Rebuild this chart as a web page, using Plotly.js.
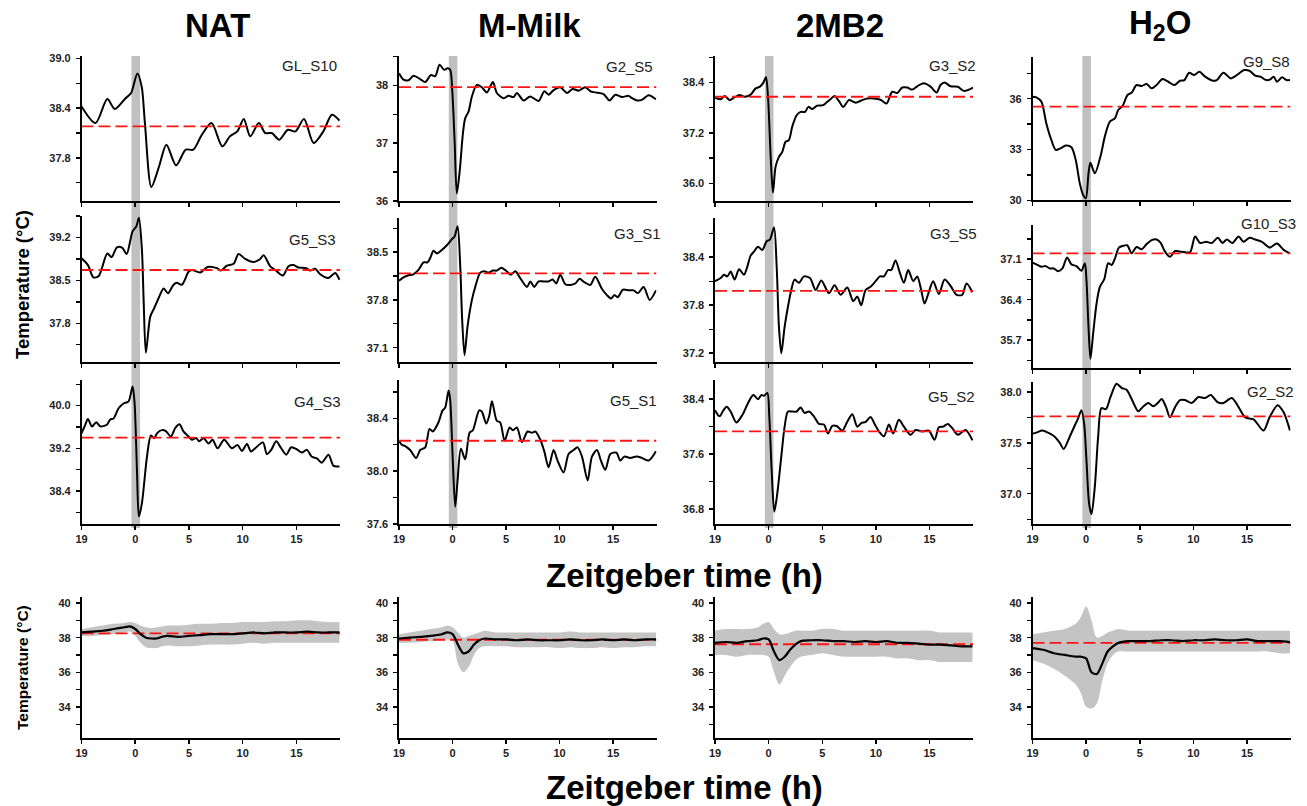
<!DOCTYPE html>
<html><head><meta charset="utf-8">
<script src="https://cdn.plot.ly/plotly-3.0.1.min.js"></script>
<style>html,body{margin:0;padding:0;background:#fff;}#chart{width:1307px;height:806px;}</style>
</head><body><div id="chart"></div>
<script>
// ---------------- DATA ----------------
const columnTitles = ['NAT', 'M-Milk', '2MB2', 'H<sub>2</sub>O'];
const xTickVals = [-5, 0, 5, 10, 15];
const xTickText = ['19', '0', '5', '10', '15'];
const panelLabels = ['GL_S10','G5_S3','G4_S3','G2_S5','G3_S1','G5_S1','G3_S2','G3_S5','G5_S2','G9_S8','G10_S3','G2_S2'];
const refLevels = [38.18, 38.67, 39.4, 37.97, 38.19, 38.23, 38.06, 37.98, 37.93, 35.53, 37.2, 37.76];
const meanRefLevels = [38.25, 37.88, 37.62, 37.7];

const NAT_A_T = [-5,-3.7,-2.6,-1.9,-0.9,-0.4,0.2,0.6,0.9,1.5,2.2,2.9,3.8,4.7,5.4,6.2,7.1,8.1,8.8,9.5,10.1,10.7,11.5,12.1,12.7,13.4,14.2,14.9,15.7,16.6,17.5,18.3,19];
const NAT_A_V = [38.42,38.22,38.51,38.39,38.52,38.58,38.82,38.66,38.22,37.45,37.69,37.96,37.71,37.90,37.90,38.08,38.22,37.94,38.06,38.12,38.27,38.06,38.22,38.10,38.10,38.02,38.14,38.12,38.27,37.98,38.12,38.32,38.25];
const NAT_B_T = [-5,-4.4,-3.9,-3.4,-2.6,-2.2,-1.7,-1.2,-0.8,-0.25,0.1,0.34,0.62,0.78,0.99,1.4,1.77,2.17,2.64,3.04,3.57,3.88,4.34,4.96,5.27,6.05,6.73,7.6,7.97,8.53,9.15,9.61,10.23,11.0,11.57,11.94,12.56,13.02,13.74,14.26,14.73,15.19,15.91,16.28,16.74,17.21,17.98,18.6,19];
const NAT_B_V = [38.86,38.75,38.55,38.57,38.94,38.88,39.04,39.03,38.93,39.30,39.38,39.52,39.0,38.18,37.32,37.91,38.05,38.21,38.37,38.29,38.43,38.46,38.43,38.64,38.67,38.63,38.72,38.70,38.66,38.74,38.77,38.93,38.85,38.80,38.84,38.91,38.73,38.67,38.58,38.73,38.75,38.71,38.70,38.66,38.69,38.60,38.54,38.62,38.51];
const NAT_C_T = [-5,-4.65,-4.4,-4.03,-3.63,-3.26,-2.64,-2.33,-2.02,-1.55,-1.09,-0.62,-0.25,-0.06,0.16,0.34,0.62,1.09,1.46,1.77,2.02,2.48,2.85,3.32,3.72,4.12,4.5,4.96,5.27,5.67,5.95,6.36,6.82,7.19,7.66,8.28,8.99,9.52,9.92,10.39,10.76,11.16,11.88,12.25,12.65,13.12,13.58,14.05,14.51,15.04,15.5,15.97,16.43,16.9,17.36,17.98,18.45,19];
const NAT_C_V = [39.48,39.64,39.75,39.61,39.69,39.61,39.64,39.74,39.76,39.95,40.04,40.08,40.36,40.04,38.79,37.92,38.17,39.04,39.44,39.39,39.48,39.54,39.52,39.42,39.58,39.65,39.51,39.42,39.36,39.39,39.33,39.39,39.29,39.36,39.2,39.36,39.2,39.26,39.15,39.28,39.14,39.2,39.31,39.09,39.17,39.33,39.2,39.08,39.22,39.18,39.12,39.17,39.04,39.01,38.93,39.08,38.87,38.86];

const MM_A_T = [-5,-4.58,-4.11,-3.64,-3.02,-2.55,-2.02,-1.62,-1.21,-0.78,-0.47,-0.22,-0.03,0.19,0.4,0.65,0.97,1.18,1.5,1.81,2.27,2.74,3.21,3.77,4.14,4.77,5.23,5.7,6.01,6.64,7.26,8.04,8.57,8.97,9.44,10.06,10.69,11.21,11.78,12.4,12.87,13.33,14.11,14.67,15.2,15.83,16.45,16.76,17.23,17.69,18.32,19];
const MM_A_V = [38.21,38.1,38.09,38.17,38.11,38.06,38.18,38.16,38.36,38.27,38.3,38.27,37.92,37.06,36.13,36.48,37.17,37.43,37.55,37.81,38.01,37.97,37.88,38.06,37.87,37.78,37.82,37.8,37.87,37.74,37.81,37.73,37.9,37.84,37.92,37.97,37.87,37.94,37.91,37.97,37.9,37.88,37.85,37.74,37.84,37.8,37.82,37.78,37.74,37.75,37.83,37.76];
const MM_B_T = [-5,-4.58,-4.11,-3.71,-3.18,-2.71,-2.34,-2.09,-1.78,-1.46,-1.0,-0.53,-0.06,0.19,0.47,0.72,0.9,1.12,1.4,1.81,2.12,2.59,2.96,3.36,3.77,4.14,4.55,4.98,5.45,5.86,6.32,6.95,7.26,7.63,8.04,8.5,8.97,9.35,9.69,10.06,10.53,11.0,11.46,11.87,12.31,12.87,13.33,13.96,14.42,14.8,15.11,15.42,15.92,16.45,16.92,17.32,17.85,18.41,19];
const MM_B_V = [38.08,38.13,38.16,38.17,38.24,38.35,38.35,38.41,38.52,38.48,38.53,38.6,38.69,38.73,38.88,38.29,37.51,36.99,37.41,37.8,37.99,38.2,38.22,38.2,38.23,38.23,38.27,38.23,38.17,38.22,38.12,37.99,38.07,37.99,38.07,38.07,38.07,38.1,38.04,38.17,38.03,38.02,38.04,38.11,38.06,38.02,38.14,37.96,37.87,37.82,37.87,37.84,37.95,37.94,37.94,37.9,37.99,37.8,37.94];
const MM_C_T = [-5,-4.74,-4.42,-3.96,-3.4,-3.02,-2.55,-2.15,-1.84,-1.31,-0.93,-0.69,-0.37,-0.22,0,0.25,0.47,0.78,1.18,1.59,1.9,2.49,2.74,3.15,3.43,3.68,4.14,4.45,4.86,5.33,5.64,6.01,6.48,7.01,7.41,7.73,8.19,8.57,8.97,9.44,9.81,10.37,10.84,11.31,11.68,12.09,12.62,13.02,13.49,13.86,14.27,14.74,15.3,15.67,16.04,16.6,17.17,17.69,18.32,19];
const MM_C_V = [38.23,38.2,38.19,38.16,38.1,38.16,38.18,38.32,38.3,38.37,38.46,38.48,38.61,38.54,38.13,37.73,37.93,38.17,38.09,38.29,38.31,38.46,38.45,38.36,38.42,38.53,38.38,38.37,38.23,38.33,38.31,38.33,38.22,38.3,38.29,38.3,38.24,38.15,38.03,38.16,38.08,37.99,38.13,38.16,38.18,38.11,37.93,38.11,38.16,38.08,38.01,38.13,38.14,38.08,38.11,38.1,38.11,38.1,38.08,38.15];

const MB_A_T = [-5,-4.47,-4.1,-3.63,-3.23,-2.7,-2.24,-1.68,-1.21,-0.81,-0.5,-0.25,-0.06,0.19,0.4,0.65,0.96,1.27,1.58,1.89,2.2,2.61,2.98,3.39,3.7,4.07,4.53,5.09,5.47,5.84,6.15,6.55,6.96,7.48,8.11,8.73,9.19,9.81,10.43,10.99,11.52,11.99,12.45,12.92,13.39,13.85,14.47,15.09,15.65,16.02,16.4,16.96,17.64,18.2,19.05];
const MB_A_V = [38.04,38.0,38.08,37.98,38.04,38.1,38.06,38.11,38.26,38.3,38.39,38.53,38.06,36.63,35.78,36.4,36.63,36.75,36.99,37.03,37.35,37.62,37.7,37.7,37.82,37.77,37.85,37.86,37.94,38.02,38.08,37.96,37.82,37.98,37.92,37.98,38.02,38.02,37.99,37.9,38.18,38.15,38.28,38.28,38.23,38.31,38.38,38.3,38.16,38.34,38.4,38.31,38.3,38.2,38.28];
const MB_B_T = [-5,-4.47,-4.16,-3.85,-3.54,-3.17,-2.76,-2.3,-1.99,-1.68,-1.37,-0.99,-0.59,-0.19,0.12,0.5,0.75,0.96,1.18,1.49,1.8,2.11,2.42,2.83,3.29,3.85,4.38,4.91,5.62,6.15,6.71,7.33,7.89,8.26,8.63,9.04,9.5,9.97,10.37,10.75,11.12,11.43,11.83,12.24,12.61,13.01,13.48,13.85,14.22,14.53,14.94,15.34,15.87,16.4,16.96,17.52,18.04,18.45,19];
const MB_B_V = [38.1,38.14,38.18,38.16,38.22,38.12,38.25,38.18,38.28,38.42,38.47,38.53,38.49,38.6,38.62,38.77,38.28,37.53,37.2,37.53,37.78,37.99,38.12,38.08,38.16,38.14,37.99,38.11,37.95,38.05,37.93,38.02,37.85,37.91,37.8,37.99,38.03,38.1,38.16,38.16,38.24,38.24,38.36,38.2,38.08,38.24,38.1,38.16,37.99,37.82,37.97,38.1,37.94,38.12,38.04,37.93,37.93,38.07,37.96];
const MB_C_T = [-5,-4.57,-4.25,-3.91,-3.54,-3.01,-2.45,-1.93,-1.43,-0.99,-0.68,-0.43,-0.12,0.06,0.28,0.53,0.81,1.21,1.49,1.8,2.2,2.61,2.98,3.35,3.76,4.22,4.69,5.16,5.53,5.93,6.34,6.86,7.33,7.8,8.26,8.63,9.04,9.5,9.88,10.28,10.75,11.21,11.61,12.14,12.61,13.23,13.7,14.32,14.94,15.47,15.87,16.27,16.71,17.2,17.64,18.35,19];
const MB_C_V = [38.24,38.15,38.23,38.29,38.22,38.06,38.17,38.34,38.46,38.4,38.46,38.45,38.49,38.15,37.37,36.76,37.03,37.61,38.0,38.22,38.22,38.22,38.28,38.2,38.22,38.15,38.04,38.03,37.9,38.01,38.01,37.94,38.07,38.18,38.0,38.05,38.07,38.14,38.04,37.93,37.86,38.03,37.9,38.1,38.0,37.88,37.95,37.93,37.94,37.81,37.99,38.0,38.04,37.96,37.88,37.95,37.8];

const HO_A_T = [-5,-4.64,-4.17,-3.71,-3.24,-2.83,-2.4,-1.9,-1.37,-0.97,-0.59,-0.28,-0.03,0.22,0.4,0.81,1.37,1.74,2.21,2.68,2.99,3.4,3.86,4.24,4.7,5.17,5.64,6.11,6.57,7.13,7.66,8.22,8.75,9.16,9.6,10.06,10.56,11.09,11.81,12.18,12.8,13.49,14.05,14.74,15.23,15.76,16.23,16.79,17.17,17.48,17.79,18.26,18.66,19];
const HO_A_V = [36.12,36.08,35.82,34.54,33.56,32.97,33.07,33.23,33.13,32.38,31.0,30.31,30.12,31.59,32.22,31.59,32.68,33.76,34.64,34.84,35.33,35.57,36.22,36.35,36.81,36.75,36.87,36.61,36.81,37.16,37.0,36.81,37.06,37.1,37.53,37.4,37.59,37.3,37.06,37.1,37.53,37.2,37.4,37.69,37.65,37.36,37.3,37.1,37.14,37.3,37.0,37.26,37.1,37.1];
const HO_B_T = [-5,-4.64,-4.17,-3.77,-3.4,-3.02,-2.62,-2.21,-1.78,-1.37,-0.9,-0.44,-0.12,0.03,0.22,0.4,0.65,0.97,1.28,1.68,2.06,2.37,2.68,3.05,3.46,3.83,4.24,4.7,5.17,5.64,6.11,6.57,6.95,7.35,7.82,8.29,8.75,9.22,9.69,10.16,10.62,11.18,11.71,12.27,12.71,13.12,13.64,14.21,14.67,15.23,15.76,16.39,17.1,17.79,18.41,19];
const HO_B_V = [37.04,37.01,36.97,36.98,36.94,36.94,36.89,36.94,37.13,37.01,36.98,36.9,37.03,36.74,35.93,35.38,35.81,36.33,36.62,36.75,37.03,37.0,37.11,37.3,37.33,37.34,37.2,37.31,37.27,37.36,37.43,37.44,37.38,37.23,37.14,37.24,37.23,37.22,37.22,37.49,37.38,37.4,37.38,37.47,37.38,37.44,37.38,37.49,37.4,37.47,37.44,37.4,37.3,37.37,37.26,37.2];
const HO_C_T = [-5,-4.64,-4.08,-3.55,-2.93,-2.46,-2.09,-1.53,-1.06,-0.75,-0.44,-0.19,0.03,0.28,0.5,0.81,1.12,1.43,1.84,2.27,2.83,3.3,3.77,4.24,4.86,5.26,5.79,6.26,6.67,7.04,7.45,7.82,8.29,8.75,9.22,9.84,10.47,11.09,11.62,12.24,12.8,13.58,14.21,14.83,15.61,16.54,17.1,17.85,18.41,19];
const HO_C_V = [37.59,37.6,37.62,37.6,37.56,37.5,37.44,37.56,37.67,37.74,37.82,37.69,37.33,36.9,36.8,37.07,37.56,37.84,37.83,37.95,38.08,38.04,38.02,37.93,37.81,37.85,37.89,37.86,37.89,37.93,37.85,37.75,37.85,37.92,37.92,37.89,37.95,37.94,37.97,37.9,37.89,37.94,37.85,37.75,37.73,37.62,37.75,37.87,37.8,37.62];

// group means (bottom row)
const MEAN_T = [-5,-4,-3,-2,-1,-0.5,0,0.5,1,1.5,2,2.5,3,4,5,6,7,8,9,10,11,12,13,14,15,16,17,18,19];
const NAT_MEAN = [38.3,38.35,38.4,38.5,38.6,38.65,38.5,38.2,38.0,37.95,37.95,38.05,38.1,38.05,38.1,38.15,38.2,38.2,38.2,38.25,38.3,38.25,38.3,38.3,38.3,38.35,38.3,38.3,38.3];
const NAT_UP   = [38.5,38.6,38.7,38.8,38.85,38.9,38.85,38.7,38.6,38.55,38.6,38.65,38.7,38.7,38.75,38.8,38.8,38.85,38.85,38.9,38.9,38.9,38.95,38.95,39.0,39.0,38.95,38.9,38.9];
const NAT_LO   = [38.1,38.1,38.15,38.2,38.3,38.35,38.1,37.7,37.45,37.4,37.4,37.5,37.55,37.5,37.5,37.55,37.6,37.6,37.6,37.65,37.7,37.65,37.7,37.7,37.7,37.7,37.7,37.7,37.7];
const MM_MEAN  = [37.95,38.0,38.05,38.1,38.2,38.3,38.2,37.6,37.1,37.2,37.6,37.85,37.95,37.9,37.9,37.85,37.9,37.85,37.85,37.85,37.9,37.85,37.85,37.9,37.85,37.9,37.85,37.9,37.9];
const MM_UP    = [38.2,38.3,38.4,38.5,38.6,38.7,38.6,38.3,38.0,38.1,38.2,38.3,38.4,38.3,38.3,38.3,38.3,38.3,38.3,38.3,38.35,38.3,38.3,38.3,38.3,38.3,38.3,38.3,38.3];
const MM_LO    = [37.7,37.7,37.75,37.8,37.85,37.9,37.8,36.5,36.0,36.3,37.0,37.4,37.5,37.5,37.5,37.45,37.45,37.45,37.45,37.4,37.45,37.4,37.4,37.45,37.4,37.45,37.45,37.5,37.5];
const MB_MEAN  = [37.7,37.75,37.7,37.8,37.85,37.95,37.9,37.2,36.7,36.9,37.3,37.6,37.8,37.85,37.85,37.8,37.8,37.75,37.8,37.75,37.8,37.7,37.7,37.65,37.6,37.6,37.55,37.5,37.5];
const MB_UP    = [38.4,38.5,38.5,38.5,38.6,38.8,38.9,38.5,38.2,38.2,38.3,38.4,38.4,38.4,38.5,38.5,38.4,38.4,38.4,38.4,38.4,38.4,38.4,38.4,38.4,38.3,38.3,38.3,38.3];
const MB_LO    = [37.0,37.0,36.9,37.0,37.0,37.0,36.9,36.0,35.3,35.8,36.3,36.7,36.9,37.0,37.1,37.0,36.9,36.9,36.9,36.9,36.9,36.8,36.8,36.7,36.7,36.6,36.6,36.6,36.6];
const HO_MEAN  = [37.4,37.3,37.1,37.0,36.9,36.9,36.8,36.0,35.9,36.5,37.2,37.5,37.7,37.8,37.8,37.8,37.85,37.85,37.8,37.85,37.85,37.9,37.85,37.85,37.9,37.8,37.8,37.8,37.75];
const HO_UP    = [38.2,38.3,38.4,38.5,38.8,39.2,39.8,39.0,38.0,38.1,38.3,38.4,38.5,38.4,38.4,38.4,38.4,38.4,38.4,38.4,38.4,38.4,38.4,38.4,38.4,38.4,38.4,38.4,38.4];
const HO_LO    = [36.7,36.5,36.2,35.8,35.3,34.8,34.0,33.9,34.2,35.5,36.5,37.0,37.2,37.2,37.2,37.2,37.2,37.2,37.2,37.2,37.2,37.2,37.2,37.2,37.2,37.2,37.2,37.1,37.1];

// ---------------- LAYOUT CONFIG ----------------
const W = 1307, H = 806;
const FONT = 'Arial, "Liberation Sans", sans-serif';
const px = p => p / W, py = p => 1 - p / H;
const colDom = [[81.5, 340], [399, 656.5], [715, 973], [1032.5, 1290.5]];
const XR = [-5, 19.05];
const series = [[NAT_A_T,NAT_A_V],[NAT_B_T,NAT_B_V],[NAT_C_T,NAT_C_V],[MM_A_T,MM_A_V],[MM_B_T,MM_B_V],[MM_C_T,MM_C_V],[MB_A_T,MB_A_V],[MB_B_T,MB_B_V],[MB_C_T,MB_C_V],[HO_A_T,HO_A_V],[HO_B_T,HO_B_V],[HO_C_T,HO_C_V]];
const cfg = [
 {c:0, top:56, bot:201, range:[37.28,39.03], tick0:37.8, dtick:0.6, fmt:'.1f', lx:339, ly:65},
 {c:0, top:216, bot:362, range:[37.17,39.55], tick0:37.8, dtick:0.7, fmt:'.1f', lx:338, ly:239},
 {c:0, top:380, bot:524, range:[37.78,40.48], tick0:38.4, dtick:0.8, fmt:'.1f', lx:343, ly:402, xl:true},
 {c:1, top:56, bot:201, range:[36.0,38.51], tick0:36, dtick:1, fmt:'d', lx:655, ly:67},
 {c:1, top:218, bot:362, range:[36.89,39.0], tick0:37.1, dtick:0.7, fmt:'.1f', lx:663, ly:234},
 {c:1, top:380, bot:524, range:[37.6,38.69], tick0:37.6, dtick:0.4, fmt:'.1f', lx:659, ly:400, xl:true},
 {c:2, top:56, bot:201, range:[35.58,39.03], tick0:36.0, dtick:1.2, fmt:'.1f', lx:978, ly:65},
 {c:2, top:218, bot:362, range:[37.09,38.89], tick0:37.2, dtick:0.6, fmt:'.1f', lx:979, ly:233},
 {c:2, top:380, bot:524, range:[36.58,38.68], tick0:36.8, dtick:0.8, fmt:'.1f', lx:977, ly:396, xl:true},
 {c:3, top:56.7, bot:200.3, range:[30.0,38.48], tick0:30, dtick:3, fmt:'d', lx:1292, ly:62},
 {c:3, top:225, bot:368, range:[35.22,37.69], tick0:35.7, dtick:0.7, fmt:'.1f', lx:1298, ly:223},
 {c:3, top:381.7, bot:524.3, range:[36.7,38.1], tick0:37.0, dtick:0.5, fmt:'.1f', lx:1296, ly:392, xl:true}
];
const means = [[NAT_MEAN,NAT_UP,NAT_LO],[MM_MEAN,MM_UP,MM_LO],[MB_MEAN,MB_UP,MB_LO],[HO_MEAN,HO_UP,HO_LO]];
const meanCfg = {top:597, bot:738, range:[32.2,40.35], tick0:34, dtick:2, fmt:'d'};

const traces = [];
const layout = {
  width: W, height: H, margin: {l:0, r:0, t:0, b:0},
  paper_bgcolor: '#fff', plot_bgcolor: 'rgba(0,0,0,0)',
  showlegend: false, font: {family: FONT, color: '#000'},
  annotations: [], shapes: []
};
const axName = k => (k === 1 ? '' : String(k));
const RED = '#ff1414';
const DASH = '12px,5px';

function makeAxes(k, c, top, bot, yc, showX) {
  layout['xaxis' + axName(k)] = {
    domain: [px(colDom[c][0]), px(colDom[c][1])], range: XR, anchor: 'y' + axName(k),
    showline: true, linecolor: '#000', linewidth: 1.6, mirror: false,
    ticks: 'outside', ticklen: 4, tickwidth: 1.5, tickcolor: '#000',
    tickmode: 'array', tickvals: xTickVals, ticktext: xTickText,
    showticklabels: showX, tickfont: {family: FONT, size: 11, weight: 'bold', color: '#222'},
    showgrid: false, zeroline: false, fixedrange: true
  };
  layout['yaxis' + axName(k)] = {
    domain: [py(bot), py(top)], range: yc.range, anchor: 'x' + axName(k),
    showline: true, linecolor: '#000', linewidth: 1.6,
    ticks: 'outside', ticklen: 4, tickwidth: 1.5, tickcolor: '#000',
    tickmode: 'linear', tick0: yc.tick0, dtick: yc.dtick, tickformat: yc.fmt,
    minor: {tick0: yc.tick0, dtick: yc.dtick / 2, ticks: 'outside', ticklen: 4, tickwidth: 1.3, tickcolor: '#000', showgrid: false},
    ticklabelstandoff: 3,
    tickfont: {family: FONT, size: 11, weight: 'bold', color: '#222'},
    showgrid: false, zeroline: false, fixedrange: true
  };
}

// individual panels
cfg.forEach((p, i) => {
  const k = i + 1;
  makeAxes(k, p.c, p.top, p.bot, p, !!p.xl);
  const xa = 'x' + axName(k), ya = 'y' + axName(k);
  traces.push({x: series[i][0], y: series[i][1], xaxis: xa, yaxis: ya, type: 'scatter', mode: 'lines',
    line: {color: '#000', width: 2, shape: 'spline', smoothing: 0.8}, hoverinfo: 'skip'});
  traces.push({x: XR, y: [refLevels[i], refLevels[i]], xaxis: xa, yaxis: ya, type: 'scatter', mode: 'lines',
    line: {color: RED, width: 1.8, dash: DASH}, hoverinfo: 'skip'});
  layout.annotations.push({xref: 'paper', yref: 'paper', x: px(p.lx), y: py(p.ly), xanchor: 'right', yanchor: 'middle',
    text: panelLabels[i], showarrow: false, font: {family: FONT, size: 15, color: '#222'}});
});

// gray injection bands spanning rows 1-3 of each column
for (let c = 0; c < 4; c++) {
  const k = c * 3 + 1;
  layout.shapes.push({type: 'rect', xref: 'x' + axName(k), yref: 'paper', x0: -0.35, x1: 0.45,
    y0: py(528), y1: py(56), fillcolor: '#c0c0c0', line: {width: 0}, layer: 'below'});
}

// mean panels
means.forEach((m, c) => {
  const k = 13 + c;
  makeAxes(k, c, meanCfg.top, meanCfg.bot, meanCfg, true);
  const xa = 'x' + axName(k), ya = 'y' + axName(k);
  traces.push({x: MEAN_T, y: m[2], xaxis: xa, yaxis: ya, type: 'scatter', mode: 'lines',
    line: {width: 0, shape: 'spline'}, hoverinfo: 'skip'});
  traces.push({x: MEAN_T, y: m[1], xaxis: xa, yaxis: ya, type: 'scatter', mode: 'lines', fill: 'tonexty',
    fillcolor: '#c4c4c4', line: {width: 0, shape: 'spline'}, hoverinfo: 'skip'});
  traces.push({x: XR, y: [meanRefLevels[c], meanRefLevels[c]], xaxis: xa, yaxis: ya, type: 'scatter', mode: 'lines',
    line: {color: RED, width: 1.8, dash: DASH}, hoverinfo: 'skip'});
  traces.push({x: MEAN_T, y: m[0], xaxis: xa, yaxis: ya, type: 'scatter', mode: 'lines',
    line: {color: '#000', width: 2.2, shape: 'spline', smoothing: 0.8}, hoverinfo: 'skip'});
});

// titles
const titleX = [217, 529, 840, 1160];
columnTitles.forEach((t, c) => layout.annotations.push({xref: 'paper', yref: 'paper', x: px(titleX[c]), y: py(25),
  xanchor: 'center', yanchor: 'middle', text: t, showarrow: false, font: {family: FONT, size: 33, weight: 'bold', color: '#000'}}));
[[575, 33], [787, 33]].forEach(([y, s]) => layout.annotations.push({xref: 'paper', yref: 'paper', x: px(684), y: py(y),
  xanchor: 'center', yanchor: 'middle', text: 'Zeitgeber time (h)', showarrow: false,
  font: {family: FONT, size: s, weight: 'bold', color: '#000'}}));
[[285, 18.5], [668, 15.5]].forEach(([y, s]) => layout.annotations.push({xref: 'paper', yref: 'paper', x: px(22), y: py(y),
  xanchor: 'center', yanchor: 'middle', text: 'Temperature (°C)', textangle: -90, showarrow: false,
  font: {family: FONT, size: s, weight: 'bold', color: '#000'}}));

Plotly.newPlot('chart', traces, layout, {displayModeBar: false, staticPlot: true});
</script></body></html>
